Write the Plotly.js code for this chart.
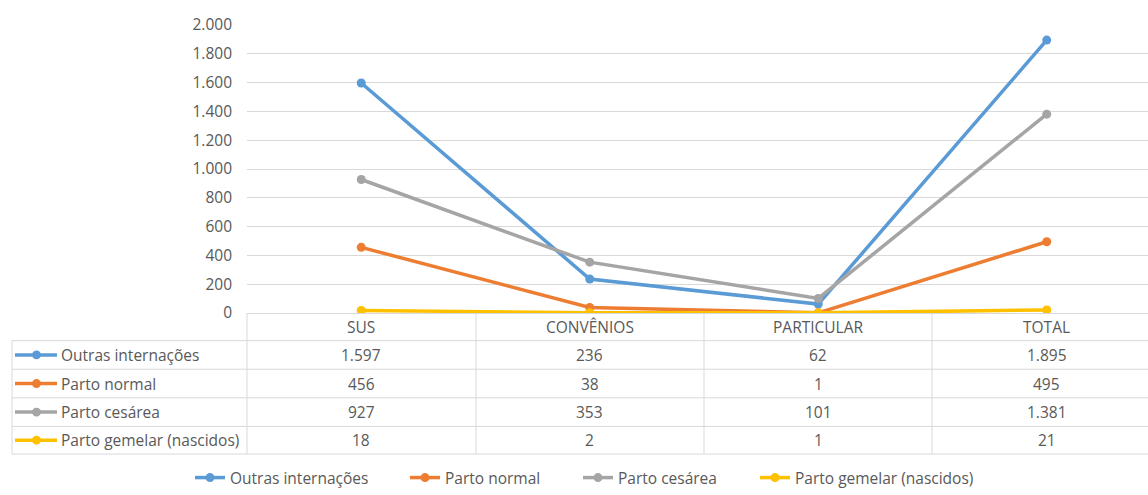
<!DOCTYPE html>
<html><head><meta charset="utf-8">
<script src="https://cdn.plot.ly/plotly-3.0.1.min.js"></script>
<style>html,body{margin:0;padding:0;background:#fff;}#chart{width:1148px;height:495px;}</style>
</head><body><div id="chart"></div>
<script>
var categories = ['SUS', 'CONVÊNIOS', 'PARTICULAR', 'TOTAL'];
var seriesNames = ['Outras internações', 'Parto normal', 'Parto cesárea', 'Parto gemelar (nascidos)'];
var outras = [1597, 236, 62, 1895];
var partoNormal = [456, 38, 1, 495];
var partoCesarea = [927, 353, 101, 1381];
var partoGemelar = [18, 2, 1, 21];
var yTicks = [0, 200, 400, 600, 800, 1000, 1200, 1400, 1600, 1800, 2000];

var seriesValues = [outras, partoNormal, partoCesarea, partoGemelar];
var colors = ['#5B9BD5', '#ED7D31', '#A5A5A5', '#FFC000'];

var W = 1148, H = 495, L = 247, T = 25, B = 178;
var PW = W - L, PH = H - T - B;
function px(x) { return (x - L) / PW; }
function py(y) { return (H - B - y) / PH; }
function fmt(v) { return String(v).replace(/\B(?=(\d{3})+(?!\d))/g, '.'); }

var font = 'Open Sans, Noto Sans, sans-serif';
var txtColor = '#595959';
var grid = '#D9D9D9';
var fs = 15.5;

var legendIds = ['legend', 'legend2', 'legend3', 'legend4'];
var legendTextX = [232, 447, 620, 797];

var traces = seriesValues.map(function (vals, i) {
  return {
    type: 'scatter', mode: 'lines+markers', name: seriesNames[i],
    x: categories, y: vals, legend: legendIds[i],
    line: { color: colors[i], width: 3.5 },
    marker: { color: colors[i], size: 9 }
  };
});

var shapes = [];
var annotations = [];
function hline(y, x0, x1) {
  shapes.push({ type: 'line', xref: 'paper', yref: 'paper', x0: px(x0), x1: px(x1), y0: py(y), y1: py(y), line: { color: grid, width: 1 } });
}
function vline(x, y0, y1) {
  shapes.push({ type: 'line', xref: 'paper', yref: 'paper', x0: px(x), x1: px(x), y0: py(y0), y1: py(y1), line: { color: grid, width: 1 } });
}
[345, 374, 403, 432, 460].forEach(function (y) { hline(y, 12, W); });
vline(12, 345, 460);
[247, 476, 704, 932].forEach(function (x) { vline(x, 317, 460); });

var rowY = [359.5, 388.5, 417.5, 446];
categories.forEach(function (c) {
  annotations.push({ xref: 'x', yref: 'paper', x: c, y: py(331), text: c, showarrow: false,
    font: { family: font, size: fs, color: txtColor }, xanchor: 'center', yanchor: 'middle' });
});
seriesValues.forEach(function (vals, i) {
  var y = rowY[i];
  shapes.push({ type: 'line', xref: 'paper', yref: 'paper', x0: px(15), x1: px(57), y0: py(y), y1: py(y), line: { color: colors[i], width: 3.5 } });
  shapes.push({ type: 'circle', xref: 'paper', yref: 'paper', x0: px(32), x1: px(41), y0: py(y + 4.5), y1: py(y - 4.5), fillcolor: colors[i], line: { color: colors[i], width: 0 } });
  annotations.push({ xref: 'paper', yref: 'paper', x: px(59), y: py(y), text: seriesNames[i], showarrow: false,
    font: { family: font, size: fs, color: txtColor }, xanchor: 'left', yanchor: 'middle' });
  vals.forEach(function (v, j) {
    annotations.push({ xref: 'x', yref: 'paper', x: categories[j], y: py(y), text: fmt(v), showarrow: false,
      font: { family: font, size: fs, color: txtColor }, xanchor: 'center', yanchor: 'middle' });
  });
});

var layout = {
  width: W, height: H,
  margin: { l: L, r: 0, t: T, b: B, pad: 0 },
  paper_bgcolor: '#fff', plot_bgcolor: '#fff',
  separators: ',.',
  font: { family: font, size: fs, color: txtColor },
  showlegend: true,
  xaxis: { type: 'category', range: [-0.5, -0.5 + PW / 228.5], showticklabels: false, ticks: '',
    showgrid: false, showline: true, linecolor: grid, linewidth: 1, zeroline: false, fixedrange: true },
  yaxis: { range: [0, 2000], tickvals: yTicks, ticktext: yTicks.map(fmt), ticks: '',
    showgrid: true, gridcolor: grid, gridwidth: 1, zeroline: false, showline: false,
    tickfont: { family: font, size: fs, color: txtColor }, ticklabelstandoff: 14, fixedrange: true },
  shapes: shapes,
  annotations: annotations
};
legendIds.forEach(function (id, i) {
  layout[id] = { orientation: 'h', x: px(legendTextX[i] - 42), xanchor: 'left', y: py(485), yanchor: 'middle',
    font: { family: font, size: fs, color: txtColor }, bgcolor: 'rgba(0,0,0,0)', borderwidth: 0 };
});

Plotly.newPlot('chart', traces, layout, { displayModeBar: false, staticPlot: true });
</script></body></html>
